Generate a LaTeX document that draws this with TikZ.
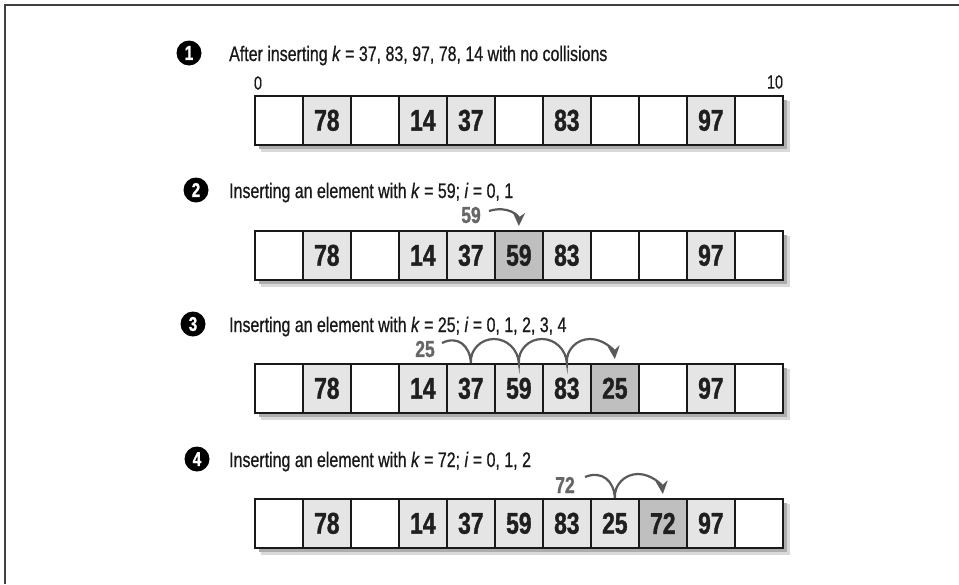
\documentclass[tikz,border=0pt]{standalone}
\usepackage{fontspec}
\setmainfont{Liberation Sans}
\newfontfamily\headfont[FakeStretch=0.76,FakeBold=0.7]{Liberation Sans}
\newfontfamily\cellfont[FakeStretch=0.76,FakeBold=1.2]{Liberation Sans}
\newfontfamily\idxfont[FakeStretch=0.76,FakeBold=0.4]{Liberation Sans}
\usetikzlibrary{arrows.meta}
\tikzset{
  cellbox/.style={draw=black!90, fill=white, line width=1.7pt, minimum width=48pt, minimum height=49pt,
    inner sep=0pt, anchor=north west, font=\cellfont\bfseries\fontsize{30}{30}\selectfont, text=black!88},
  fullbox/.style={cellbox, fill=black!10},
  newbox/.style={cellbox, fill=black!25},
  heading/.style={anchor=base west, inner sep=0pt, font=\headfont\fontsize{21}{21}\selectfont, text=black!90},
  numdot/.style={circle, fill=black, minimum size=25pt, inner sep=0pt, text=white,
    font=\cellfont\bfseries\fontsize{20}{20}\selectfont},
  probelabel/.style={inner sep=0pt, font=\cellfont\bfseries\fontsize{23}{23}\selectfont, text=black!60},
  idx/.style={inner sep=0pt, font=\idxfont\fontsize{19}{19}\selectfont, text=black!90},
  probe/.style={draw=black!65, line width=2.2pt, -{Stealth[length=13pt,width=12pt]}},
  shadowA/.style={fill=black!15},
  shadowB/.style={fill=black!32},
}
\begin{document}
\begin{tikzpicture}[x=1pt,y=-1pt]
\useasboundingbox (0,0) rectangle (959,584);
% frame
\draw[black!75, line width=1.8pt] (5,584) -- (5,5) -- (959,5);

% ---------- row 1 ----------
\node[numdot] (n1) at (189,53) {1};
\node[heading] (h1) at (229,61) {After inserting \textit{k} = 37, 83, 97, 78, 14 with no collisions};
\node[idx] (i0) at (258,83) {0};
\node[idx] (i10) at (775,82) {10};
\fill[shadowA] (261,101) rectangle (790,152);
\fill[shadowB] (259,100) rectangle (787,149);
\node[cellbox] (r1c0) at (254,95) {};
\node[fullbox] (r1c1) at (302,95) {78};
\node[cellbox] (r1c2) at (350,95) {};
\node[fullbox] (r1c3) at (398,95) {14};
\node[fullbox] (r1c4) at (446,95) {37};
\node[cellbox] (r1c5) at (494,95) {};
\node[fullbox] (r1c6) at (542,95) {83};
\node[cellbox] (r1c7) at (590,95) {};
\node[cellbox] (r1c8) at (638,95) {};
\node[fullbox] (r1c9) at (686,95) {97};
\node[cellbox] (r1c10) at (734,95) {};

% ---------- row 2 ----------
\node[numdot] (n2) at (196,190) {2};
\node[heading] (h2) at (229,198) {Inserting an element with \textit{k} = 59; \textit{i} = 0, 1};
\fill[shadowA] (261,236) rectangle (790,287);
\fill[shadowB] (259,235) rectangle (787,284);
\node[cellbox] (r2c0) at (254,230) {};
\node[fullbox] (r2c1) at (302,230) {78};
\node[cellbox] (r2c2) at (350,230) {};
\node[fullbox] (r2c3) at (398,230) {14};
\node[fullbox] (r2c4) at (446,230) {37};
\node[newbox] (r2c5) at (494,230) {59};
\node[fullbox] (r2c6) at (542,230) {83};
\node[cellbox] (r2c7) at (590,230) {};
\node[cellbox] (r2c8) at (638,230) {};
\node[fullbox] (r2c9) at (686,230) {97};
\node[cellbox] (r2c10) at (734,230) {};
\node[probelabel] (l2) at (471,215) {59};
\coordinate (s2) at (489,211);
\draw[probe] (s2) .. controls (508,205) and (519,216) .. ([yshift=4pt]r2c5.north);

% ---------- row 3 ----------
\node[numdot] (n3) at (193,324) {3};
\node[heading] (h3) at (229,332) {Inserting an element with \textit{k} = 25; \textit{i} = 0, 1, 2, 3, 4};
\fill[shadowA] (261,369) rectangle (790,420);
\fill[shadowB] (259,368) rectangle (787,417);
\node[cellbox] (r3c0) at (254,363) {};
\node[fullbox] (r3c1) at (302,363) {78};
\node[cellbox] (r3c2) at (350,363) {};
\node[fullbox] (r3c3) at (398,363) {14};
\node[fullbox] (r3c4) at (446,363) {37};
\node[fullbox] (r3c5) at (494,363) {59};
\node[fullbox] (r3c6) at (542,363) {83};
\node[newbox] (r3c7) at (590,363) {25};
\node[cellbox] (r3c8) at (638,363) {};
\node[fullbox] (r3c9) at (686,363) {97};
\node[cellbox] (r3c10) at (734,363) {};
\node[probelabel] (l3) at (425,349) {25};
\coordinate (s3) at (442,343);
\draw[probe] (s3) .. controls (458,335) and (470,346) .. (r3c4.north)
  .. controls (470,349.75) and (480.75,339) .. (494,339)
  .. controls (507.25,339) and (518,349.75) .. (r3c5.north)
  .. controls (518,349.75) and (528.75,339) .. (542,339)
  .. controls (555.25,339) and (566,349.75) .. (r3c6.north)
  .. controls (566,349.75) and (576.75,339) .. (590,339)
  .. controls (603.25,339) and (614,349.75) .. ([yshift=4pt]r3c7.north);

% ---------- row 4 ----------
\node[numdot] (n4) at (197,459) {4};
\node[heading] (h4) at (229,467) {Inserting an element with \textit{k} = 72; \textit{i} = 0, 1, 2};
\fill[shadowA] (261,504) rectangle (790,555);
\fill[shadowB] (259,503) rectangle (787,552);
\node[cellbox] (r4c0) at (254,498) {};
\node[fullbox] (r4c1) at (302,498) {78};
\node[cellbox] (r4c2) at (350,498) {};
\node[fullbox] (r4c3) at (398,498) {14};
\node[fullbox] (r4c4) at (446,498) {37};
\node[fullbox] (r4c5) at (494,498) {59};
\node[fullbox] (r4c6) at (542,498) {83};
\node[fullbox] (r4c7) at (590,498) {25};
\node[newbox] (r4c8) at (638,498) {72};
\node[fullbox] (r4c9) at (686,498) {97};
\node[cellbox] (r4c10) at (734,498) {};
\node[probelabel] (l4) at (565,485) {72};
\coordinate (s4) at (585,477);
\draw[probe] (s4) .. controls (602,470) and (614,481) .. (r4c7.north)
  .. controls (614,484.75) and (624.75,474) .. (638,474)
  .. controls (651.25,474) and (662,484.75) .. ([yshift=4pt]r4c8.north);
\end{tikzpicture}
\end{document}
